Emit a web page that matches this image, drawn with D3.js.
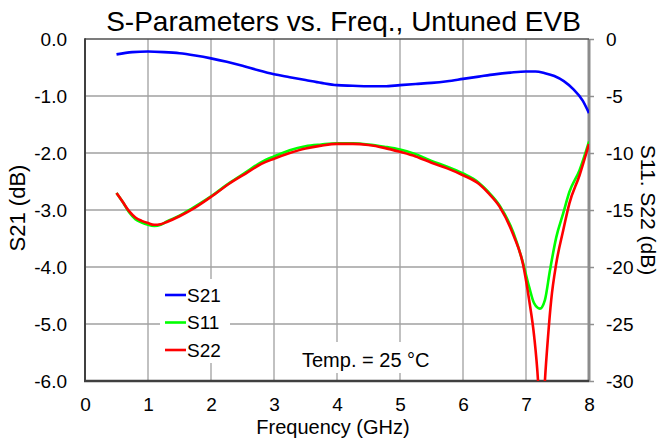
<!DOCTYPE html>
<html lang="en">
<head>
  <meta charset="UTF-8">
  <title>S-Parameters vs. Freq., Untuned EVB</title>
  <script src="https://d3js.org/d3.v7.min.js"></script>
</head>
<body style="margin: 0; padding: 0; overflow: hidden; background: #fff;">
  <svg id="chart"></svg>

  <script>
    // data
    const xTicks = [0, 1, 2, 3, 4, 5, 6, 7, 8];
    const leftTicks = [0, -1, -2, -3, -4, -5, -6];
    const rightTicks = [0, -5, -10, -15, -20, -25, -30];

    const freqS21 = [0.5, 0.75, 1.0, 1.25, 1.5, 1.75, 2.0, 2.25, 2.5, 2.75, 3.0, 3.25, 3.5, 3.75, 4.0, 4.25, 4.5, 4.75,
      5.0, 5.25, 5.5, 5.75, 6.0, 6.25, 6.5, 6.75, 7.0, 7.15, 7.3, 7.45, 7.6, 7.75, 7.9, 8.0];
    const s21 = [-0.27, -0.23, -0.22, -0.23, -0.25, -0.29, -0.34, -0.40, -0.47, -0.55, -0.62, -0.67, -0.72, -0.77, -0.81, -0.82, -0.83, -0.83,
      -0.81, -0.79, -0.77, -0.74, -0.70, -0.66, -0.62, -0.59, -0.57, -0.57, -0.60, -0.65, -0.74, -0.88, -1.08, -1.30];

    const freqS11 = [0.5, 0.6, 0.7, 0.8, 0.9, 1.0, 1.1, 1.2, 1.3, 1.5, 1.7, 2.0, 2.3, 2.55, 2.8, 3.0, 3.25, 3.5, 3.75, 4.0, 4.25, 4.5, 4.75,
      5.0, 5.25, 5.5, 5.75, 6.0, 6.25, 6.4, 6.58, 6.8, 6.95, 7.05, 7.13, 7.22, 7.3, 7.38, 7.48, 7.59, 7.69, 7.85, 8.0];
    const s11 = [-13.5, -14.3, -15.2, -15.8, -16.1, -16.3, -16.4, -16.3, -16.0, -15.5, -14.85, -13.8, -12.6, -11.7, -10.8, -10.3, -9.75, -9.4, -9.25, -9.15, -9.15, -9.25, -9.45,
      -9.7, -10.1, -10.7, -11.2, -11.8, -12.6, -13.4, -14.6, -17.0, -19.6, -21.75, -23.2, -23.65, -22.9, -20.3, -17.4, -15.3, -13.4, -11.5, -9.0];

    const freqS22 = [0.5, 0.6, 0.7, 0.8, 0.9, 1.0, 1.1, 1.2, 1.3, 1.5, 1.7, 2.0, 2.3, 2.55, 2.8, 3.0, 3.25, 3.5, 3.75, 4.0, 4.25, 4.5, 4.75,
      5.0, 5.25, 5.5, 5.75, 6.0, 6.25, 6.4, 6.58, 6.8, 6.95, 7.05, 7.13, 7.19, 7.245, 7.3, 7.35, 7.4, 7.48, 7.59, 7.69, 7.85, 8.0];
    const s22 = [-13.5, -14.3, -15.1, -15.65, -15.95, -16.15, -16.3, -16.25, -16.05, -15.55, -14.95, -13.85, -12.65, -11.8, -10.95, -10.5, -10.0, -9.6, -9.35, -9.2, -9.2, -9.3, -9.55,
      -9.9, -10.3, -10.85, -11.35, -11.95, -12.7, -13.5, -14.7, -17.2, -19.7, -22.9, -26.1, -29.9, -36, -30, -26.1, -22.9, -19.7, -16.8, -14.4, -11.95, -9.2];

    const legendNames = ["S21", "S11", "S22"];
    const legendColors = ["#0000ff", "#00ff00", "#ff0000"];

    const width = 661, height = 442;
    const plotL = 85, plotR = 589, plotT = 39, plotB = 381;
    const font = "'Liberation Sans', Arial, sans-serif";

    const svg = d3.select("#chart")
      .attr("width", width)
      .attr("height", height)
      .style("font-family", font);

    const x = d3.scaleLinear().domain([0, 8]).range([plotL, plotR]);
    const yL = d3.scaleLinear().domain([-6, 0]).range([plotB, plotT]);
    const yR = d3.scaleLinear().domain([-30, 0]).range([plotB, plotT]);

    // grid
    svg.append("g").selectAll("line")
      .data(xTicks.slice(1, -1))
      .join("line")
      .attr("x1", d => x(d)).attr("x2", d => x(d))
      .attr("y1", plotT).attr("y2", plotB)
      .attr("stroke", "#a0a0a0").attr("stroke-width", 1.3);

    svg.append("g").selectAll("line")
      .data(leftTicks.slice(1, -1))
      .join("line")
      .attr("x1", plotL).attr("x2", plotR)
      .attr("y1", d => yL(d)).attr("y2", d => yL(d))
      .attr("stroke", "#a0a0a0").attr("stroke-width", 1.3);

    // axes
    const axL = svg.append("g")
      .attr("transform", `translate(${plotL},0)`)
      .call(d3.axisLeft(yL).tickValues(leftTicks).tickSize(0).tickPadding(18).tickFormat(d => d.toFixed(1)));

    const axR = svg.append("g")
      .attr("transform", `translate(${plotR},0)`)
      .call(d3.axisRight(yR).tickValues(rightTicks).tickSize(5).tickPadding(12).tickFormat(d => String(d)));

    const axB = svg.append("g")
      .attr("transform", `translate(0,${plotB})`)
      .call(d3.axisBottom(x).tickValues(xTicks).tickSize(0).tickPadding(17).tickFormat(d => String(d)));

    [axL, axR, axB].forEach(g => {
      g.select(".domain").remove();
      g.selectAll("text").attr("font-size", 19).attr("fill", "#000").attr("font-family", font);
    });
    axR.selectAll(".tick line").attr("stroke", "#909090").attr("stroke-width", 1.5);

    // frame
    svg.append("line").attr("x1", plotR).attr("x2", plotR).attr("y1", plotT).attr("y2", plotB)
      .attr("stroke", "#8c8c8c").attr("stroke-width", 3);
    svg.append("line").attr("x1", plotL).attr("x2", plotR).attr("y1", plotT).attr("y2", plotT)
      .attr("stroke", "#505050").attr("stroke-width", 1.5);
    svg.append("line").attr("x1", plotL).attr("x2", plotL).attr("y1", plotT - 0.75).attr("y2", plotB + 1)
      .attr("stroke", "#404040").attr("stroke-width", 2);
    svg.append("line").attr("x1", plotL - 1).attr("x2", plotR).attr("y1", plotB).attr("y2", plotB)
      .attr("stroke", "#404040").attr("stroke-width", 2.3);

    // curves
    svg.append("clipPath").attr("id", "plot-clip")
      .append("rect").attr("x", plotL).attr("y", plotT).attr("width", plotR - plotL).attr("height", plotB - plotT);

    const curves = svg.append("g").attr("clip-path", "url(#plot-clip)");

    const lineL = d3.line().x(d => x(d[0])).y(d => yL(d[1])).curve(d3.curveMonotoneX);
    const lineR = d3.line().x(d => x(d[0])).y(d => yR(d[1])).curve(d3.curveMonotoneX);

    curves.append("path")
      .attr("d", lineR(d3.zip(freqS11, s11)))
      .attr("fill", "none").attr("stroke", "#00ff00").attr("stroke-width", 2.6);
    curves.append("path")
      .attr("d", lineR(d3.zip(freqS22, s22)))
      .attr("fill", "none").attr("stroke", "#ff0000").attr("stroke-width", 2.6);
    curves.append("path")
      .attr("d", lineL(d3.zip(freqS21, s21)))
      .attr("fill", "none").attr("stroke", "#0000ff").attr("stroke-width", 2.6);

    // legend
    const legend = svg.append("g");
    legend.append("rect").attr("x", 160).attr("y", 279).attr("width", 70).attr("height", 84).attr("fill", "#fff");
    legendNames.forEach((name, i) => {
      const ly = 295 + i * 27.5;
      legend.append("line").attr("x1", 165).attr("x2", 186).attr("y1", ly).attr("y2", ly)
        .attr("stroke", legendColors[i]).attr("stroke-width", 2.6);
      legend.append("text").attr("x", 187).attr("y", ly).attr("dy", "0.35em")
        .attr("font-size", 19).text(name);
    });

    // temperature note
    svg.append("rect").attr("x", 293).attr("y", 342).attr("width", 148).attr("height", 31).attr("fill", "#fff");
    svg.append("text").attr("x", 302).attr("y", 366.5).attr("font-size", 20).text("Temp. = 25 °C");

    // titles
    svg.append("text").attr("x", 343.5).attr("y", 30.5).attr("text-anchor", "middle")
      .attr("font-size", 28).text("S-Parameters vs. Freq., Untuned EVB");

    svg.append("text").attr("x", 333).attr("y", 434).attr("text-anchor", "middle")
      .attr("font-size", 20).text("Frequency (GHz)");

    svg.append("text").attr("transform", "translate(25,208) rotate(-90)").attr("text-anchor", "middle")
      .attr("font-size", 22).text("S21 (dB)");

    svg.append("text").attr("transform", "translate(641,210) rotate(90)").attr("text-anchor", "middle")
      .attr("font-size", 21).text("S11. S22 (dB)");
  </script>
</body>
</html>
